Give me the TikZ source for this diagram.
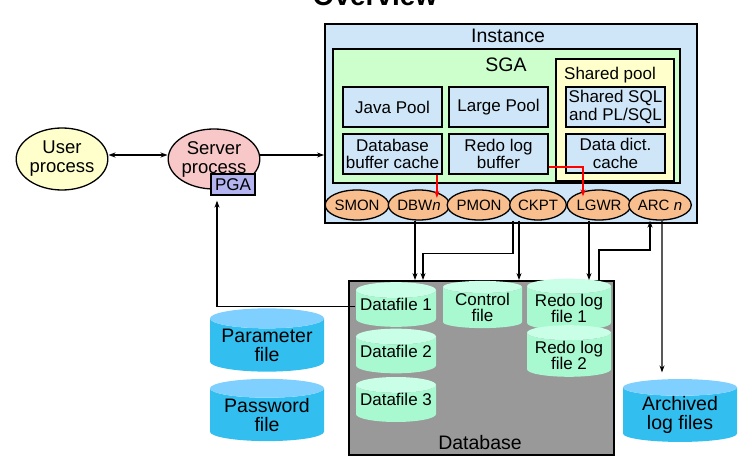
\documentclass[tikz,border=0pt]{standalone}
\usepackage{fontspec}
\setmainfont{Liberation Sans}
\usetikzlibrary{shapes.geometric,arrows.meta}
\definecolor{instblue}{RGB}{206,230,248}
\definecolor{sgagreen}{RGB}{204,255,204}
\definecolor{poolyellow}{RGB}{255,255,204}
\definecolor{procorange}{RGB}{248,190,142}
\definecolor{srvpink}{RGB}{248,200,200}
\definecolor{pgaviolet}{RGB}{180,180,240}
\definecolor{dbgray}{RGB}{153,153,153}
\definecolor{mintbody}{RGB}{168,248,208}
\definecolor{minttop}{RGB}{200,255,230}
\definecolor{filebody}{RGB}{51,190,240}
\definecolor{filetop}{RGB}{128,208,255}
\tikzset{
  >={Stealth[length=7pt,width=5pt]},
  area/.style={draw,line width=1.8pt,inner sep=0pt,anchor=center},
  membox/.style={area,fill=instblue,minimum width=99pt,minimum height=40pt,
    align=center,font=\fontsize{17}{17.5}\selectfont},
  bgproc/.style={ellipse,draw,line width=1.3pt,fill=procorange,minimum width=54pt,
    minimum height=30pt,inner sep=0pt,font=\fontsize{15}{15}\selectfont},
  dbfile/.style={cylinder,shape border rotate=90,aspect=0.22,cylinder uses custom fill,
    cylinder body fill=mintbody,cylinder end fill=minttop,minimum width=80pt,
    minimum height=43pt,inner sep=0pt,anchor=shape center,align=center,
    font=\fontsize{17}{16}\selectfont},
  datafile/.style={dbfile,text depth=8pt},
  extfile/.style={dbfile,cylinder body fill=filebody,cylinder end fill=filetop,
    minimum width=114pt,minimum height=56pt,font=\fontsize{19.5}{19}\selectfont},
  big/.style={font=\fontsize{19.5}{20}\selectfont}
}
\begin{document}
\begin{tikzpicture}[x=1pt,y=-1pt,line width=1.3pt]
	\useasboundingbox (0,0) rectangle (756,473);
	\node (title) at (375,6) [anchor=base,font=\bfseries\fontsize{28}{28}\selectfont] {Overview};
	\node (inst) at (511,123.5) [area,fill=instblue,minimum width=372pt,minimum height=199pt] {};
	\node (instlbl) at (508,36) [big] {Instance};
	\node (sga) at (506.5,116) [area,fill=sgagreen,minimum width=347pt,minimum height=134pt] {};
	\node (sgalbl) at (506,65) [big] {SGA};
	\node (shpool) at (615,120) [area,fill=poolyellow,minimum width=118pt,minimum height=122pt] {};
	\node (shpoollbl) at (610,75) [font=\fontsize{17}{17}\selectfont] {Shared pool};
	\node (java) at (392.5,107) [membox] {Java Pool};
	\node (large) at (498.5,107) [membox] {Large Pool};
	\node (dbc) at (392.5,154) [membox] {Database\\buffer cache};
	\node (redo) at (498.5,154) [membox] {Redo log\\buffer};
	\node (sql) at (615.5,107) [membox] {Shared SQL\\and PL/SQL};
	\node (dict) at (615.5,153.5) [membox,minimum height=39pt] {Data dict.\\cache};
	\node (smon) at (357,205) [bgproc] {SMON};
	\node (dbw) at (419,205) [bgproc] {DBW\textit{n}};
	\node (pmon) at (479,205) [bgproc] {PMON};
	\node (ckpt) at (538,205) [bgproc] {CKPT};
	\node (lgwr) at (599,205) [bgproc] {LGWR};
	\node (arc) at (660,205) [bgproc] {ARC \textit{n}};
	\node (user) at (62,159) [ellipse,draw,fill=poolyellow,minimum width=90pt,minimum height=62pt,
		inner sep=0pt,align=center,font=\fontsize{18.5}{19}\selectfont] {User\\process};
	\node (server) at (214,159) [ellipse,draw,fill=srvpink,minimum width=90pt,minimum height=60pt,
		inner sep=0pt,align=center,font=\fontsize{18.5}{19}\selectfont] {Server\\process};
	\node (pga) at (233,184.5) [area,line width=1.3pt,fill=pgaviolet,minimum width=44pt,minimum height=21pt,
		font=\fontsize{17}{17}\selectfont] {PGA};
	\node (db) at (481.5,368) [area,fill=dbgray,minimum width=265pt,minimum height=174pt] {};
	\node (dblbl) at (480,443) [big] {Database};
	\node (df1) at (396,304.5) [datafile] {Datafile 1};
	\node (df2) at (396,351) [datafile,minimum height=44pt] {Datafile 2};
	\node (df3) at (396,399.5) [datafile,minimum height=45pt] {Datafile 3};
	\node (ctrl) at (482.5,304.5) [dbfile,minimum width=79pt] {Control\\file};
	\node (rlf1) at (569,304.5) [dbfile,minimum width=84pt] {Redo log\\file 1};
	\node (rlf2) at (569,351) [dbfile,minimum width=84pt,minimum height=44pt] {Redo log\\file 2};
	\node (param) at (267,340) [extfile] {Parameter\\file};
	\node (passwd) at (267,410) [extfile] {Password\\file};
	\node (arch) at (680,410.5) [extfile,minimum height=59pt] {Archived\\log files};
	\draw[<->] ([yshift=4pt]user.east) -- ([yshift=4pt]server.west);
	\draw[->] ([yshift=4pt]server.east) -- ([yshift=4pt]inst.west |- server.east);
	\draw[->,shorten >=5pt] ([yshift=2pt]df1.west) -| ([xshift=-16pt]pga.south);
	\draw[->,red] ([xshift=-6pt]dbc.south east) -- ++(0,23);
	\draw[->,red] ([yshift=-13pt]redo.east) -| ([xshift=-16pt]lgwr.north) -- ++(0,7);
	\draw[->] ([xshift=-4pt]dbw.south) -- ([xshift=-4pt]dbw.south |- db.north);
	\draw[->] ([xshift=-25pt]ckpt.south) -- ++(0,33) -| ([xshift=4pt]dbw.south |- db.north);
	\draw[->] ([xshift=-19pt]ckpt.south) -- ([xshift=-19pt]ckpt.south |- db.north);
	\draw[->] ([xshift=-10pt]lgwr.south) -- ([xshift=-10pt]lgwr.south |- db.north);
	\draw[->] (lgwr.south |- db.north) -- ++(0,-30) -| ([xshift=-10pt]arc.south);
	\draw[->] ([xshift=2pt]arc.south) -- ([xshift=-18pt,yshift=6pt]arch.north);
\end{tikzpicture}
\end{document}
